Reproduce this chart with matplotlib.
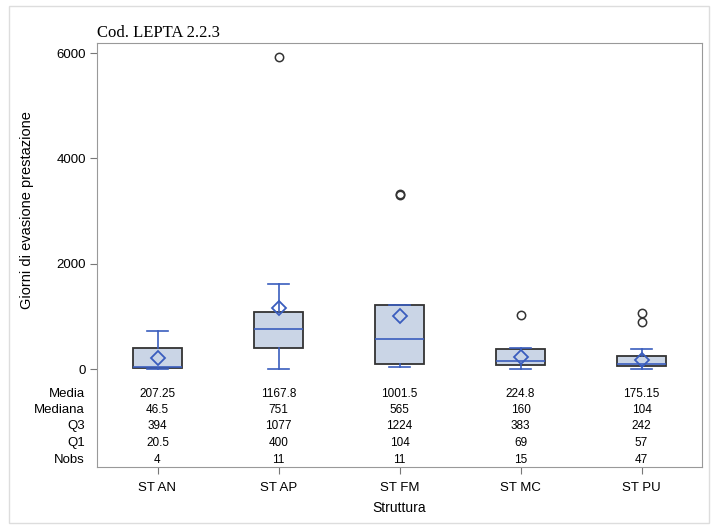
import matplotlib
matplotlib.use("Agg")
import matplotlib.pyplot as plt
from matplotlib.patches import Rectangle
import matplotlib.transforms as mtransforms

# data
strutture = ["ST AN", "ST AP", "ST FM", "ST MC", "ST PU"]
media = [207.25, 1167.8, 1001.5, 224.8, 175.15]
mediana = [46.5, 751, 565, 160, 104]
q3 = [394, 1077, 1224, 383, 242]
q1 = [20.5, 400, 104, 69, 57]
nobs = [4, 11, 11, 15, 47]
wlo = [10, 0, 40, 10, 5]
whi = [727, 1613, 1224, 398, 380]
outliers = [[], [5920], [3310, 3320], [1025], [1060, 890]]

media_lbl = ["207.25", "1167.8", "1001.5", "224.8", "175.15"]
mediana_lbl = ["46.5", "751", "565", "160", "104"]

box_face = "#CAD5E6"
box_edge = "#333333"
blue = "#3A5DBE"

plt.rcParams["font.family"] = ["Liberation Sans", "DejaVu Sans"]

fig = plt.figure(figsize=(7.18, 5.32), dpi=100)
fig.patches.append(Rectangle((9 / 718, 1 - 523 / 532), 700 / 718, 517 / 532,
                             transform=fig.transFigure, fill=False,
                             edgecolor="#DDDDDD", linewidth=1))
ax = fig.add_axes([97 / 718, (532 - 467) / 532, 605 / 718, 424 / 532])

stats = []
for i in range(len(strutture)):
    stats.append({"label": strutture[i], "mean": media[i], "med": mediana[i],
                  "q1": q1[i], "q3": q3[i], "whislo": wlo[i], "whishi": whi[i],
                  "fliers": outliers[i]})

pos = list(range(1, len(strutture) + 1))
ax.bxp(stats, positions=pos, widths=0.4, patch_artist=True, showmeans=True,
       capwidths=0.18,
       boxprops=dict(facecolor=box_face, edgecolor=box_edge, linewidth=1.3),
       medianprops=dict(color=blue, linewidth=1.2),
       whiskerprops=dict(color=blue, linewidth=1.2),
       capprops=dict(color=blue, linewidth=1.2),
       meanprops=dict(marker="D", markerfacecolor="none", markeredgecolor=blue,
                      markersize=7, markeredgewidth=1.3),
       flierprops=dict(marker="o", markerfacecolor="none", markeredgecolor="#333333",
                       markersize=6, markeredgewidth=1.1))

ax.set_xlim(0.5, len(strutture) + 0.5)
ax.set_ylim(-1860, 6190)
ax.set_yticks([0, 2000, 4000, 6000])
ax.set_xticks(pos)
ax.set_xticklabels(strutture)
ax.tick_params(axis="both", labelsize=9.5, length=5, color="#777777", pad=3)
ax.tick_params(axis="x", pad=6)
for s in ax.spines.values():
    s.set_color("#999999")

ax.set_xlabel("Struttura", fontsize=10, labelpad=5)
ax.set_ylabel("Giorni di evasione prestazione", fontsize=10.5)
ax.yaxis.set_label_coords(-0.104, 0.606)

ax.set_title("Cod. LEPTA 2.2.3", loc="left", fontsize=12,
             family="Liberation Serif", pad=4)

# statistics table inside the plot
trans = mtransforms.blended_transform_factory(ax.transData, ax.transAxes)
ltrans = ax.transAxes
rows = [("Media", media_lbl), ("Mediana", mediana_lbl),
        ("Q3", [str(v) for v in q3]), ("Q1", [str(v) for v in q1]),
        ("Nobs", [str(v) for v in nobs])]
row_y = [0.172, 0.134, 0.097, 0.057, 0.017]
for (name, vals), yy in zip(rows, row_y):
    ax.text(-0.02, yy, name, transform=ltrans, ha="right", va="center", fontsize=9.5)
    for p, v in zip(pos, vals):
        ax.text(p, yy, v, transform=trans, ha="center", va="center", fontsize=8.5)

fig.savefig("out.png", dpi=100)
